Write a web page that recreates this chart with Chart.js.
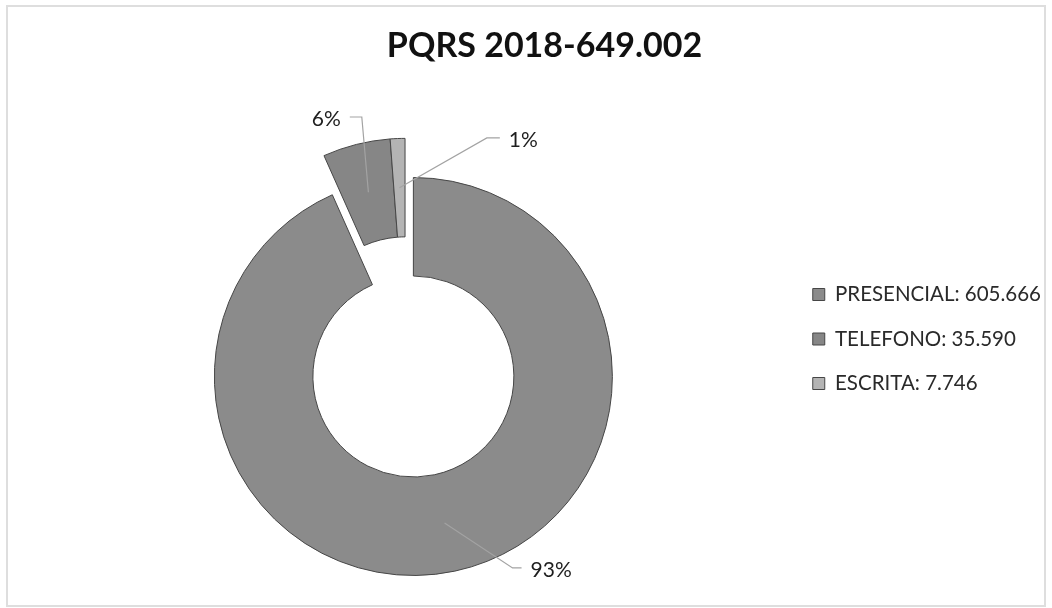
<!DOCTYPE html>
<html>
<head>
  <meta charset="utf-8" />
  <title>PQRS 2018-649.002</title>
  <style>
    html, body { margin: 0; padding: 0; overflow: hidden; background: #fff; }
    #wrap { position: relative; width: 1052px; height: 608px; overflow: hidden; }
    #stage { position: absolute; left: 0; top: 0; }
    #frame { position: absolute; left: 6px; top: 5px; width: 1036px; height: 598px; border: 2px solid #dedede; pointer-events: none; }
  </style>
</head>
<body>
  <div id="wrap">
    <canvas id="stage" width="1052" height="678"></canvas>
    <div id="frame"></div>
  </div>

  <script src="https://cdn.jsdelivr.net/npm/chart.js@4.4.0/dist/chart.umd.min.js"></script>
  <script>
    const categories = ['PRESENCIAL', 'TELEFONO', 'ESCRITA'];
    const values = [605666, 35590, 7746];
    const pctLabels = ['93%', '6%', '1%'];

    const colors = ['#8b8b8b', '#868686', '#b4b4b4'];
    // the two small slices are pulled out together, as one piece
    const explode = [0, 40, 40];

    // where each percentage label sits, relative to its slice
    const labelPlacement = [
      { elbow: [68, 45], end: [77, 45], side: 'right' },
      { elbow: [-6.6, -75.2], end: [-18.6, -75.2], side: 'left' },
      { elbow: [87.4, -49.8], end: [100.4, -49.8], side: 'right' },
    ];

    const fmt = v => String(v).replace(/\B(?=(\d{3})+(?!\d))/g, '.');

    // legend width decides where the ring ends up, so measure it first
    const legendSize = 20.5;
    const legendTexts = categories.map((c, i) => c + ': ' + fmt(values[i]));
    const m = document.createElement('canvas').getContext('2d');
    m.font = legendSize + 'px Lato';
    const textW = Math.max(...legendTexts.map(t => m.measureText(t).width));

    const explodeGroup = {
      id: 'explodeGroup',
      afterUpdate(chart) {
        const arcs = chart.getDatasetMeta(0).data;
        const out = arcs.filter((a, i) => explode[i] > 0);
        if (!out.length) return;
        const a0 = Math.min(...out.map(a => a.startAngle));
        const a1 = Math.max(...out.map(a => a.endAngle));
        const mid = (a0 + a1) / 2;
        arcs.forEach((a, i) => {
          if (!explode[i]) return;
          a.x += Math.cos(mid) * explode[i];
          a.y += Math.sin(mid) * explode[i];
        });
      }
    };

    const pieLabels = {
      id: 'pieLabels',
      afterDatasetsDraw(chart) {
        const ctx = chart.ctx;
        const arcs = chart.getDatasetMeta(0).data;
        ctx.save();
        ctx.font = '21px Lato';
        ctx.textBaseline = 'middle';
        ctx.fillStyle = '#1e1e1e';
        ctx.strokeStyle = '#a3a3a3';
        ctx.lineWidth = 1.2;
        arcs.forEach((arc, i) => {
          const mid = (arc.startAngle + arc.endAngle) / 2;
          const r = (arc.innerRadius + arc.outerRadius) / 2;
          const ax = arc.x + Math.cos(mid) * r;
          const ay = arc.y + Math.sin(mid) * r;
          const lp = labelPlacement[i];
          const ex = ax + lp.end[0], ey = ay + lp.end[1];
          ctx.beginPath();
          ctx.moveTo(ax, ay);
          ctx.lineTo(ax + lp.elbow[0], ay + lp.elbow[1]);
          ctx.lineTo(ex, ey);
          ctx.stroke();
          if (lp.side === 'right') {
            ctx.textAlign = 'left';
            ctx.fillText(pctLabels[i], ex + 9, ey + 2);
          } else {
            ctx.textAlign = 'right';
            ctx.fillText(pctLabels[i], ex - 9, ey + 2);
          }
        });
        ctx.restore();
      }
    };

    new Chart(document.getElementById('stage'), {
      type: 'doughnut',
      data: {
        labels: categories,
        datasets: [{
          data: values,
          backgroundColor: colors,
          borderColor: '#464646',
          borderWidth: 1,
          hoverOffset: 0,
        }]
      },
      options: {
        responsive: false,
        animation: false,
        events: [],
        radius: 199,
        cutout: '50.5%',
        layout: { padding: { left: 38, right: 207 - textW, top: 0, bottom: 0 } },
        plugins: {
          title: {
            display: true,
            text: 'PQRS 2018-649.002',
            color: '#111',
            font: { family: 'Lato', size: 34, weight: 'bold' },
            padding: { top: 25.4, bottom: 8.8 }
          },
          legend: {
            position: 'right',
            labels: {
              boxWidth: 12,
              boxHeight: 12,
              padding: 24,
              color: '#2a2a2a',
              font: { family: 'Lato', size: legendSize },
              generateLabels(chart) {
                const items = Chart.overrides.doughnut.plugins.legend.labels.generateLabels(chart);
                return items.map((it, i) => ({ ...it, text: legendTexts[i] }));
              }
            }
          },
          tooltip: { enabled: false }
        }
      },
      plugins: [explodeGroup, pieLabels]
    });
  </script>
</body>
</html>
